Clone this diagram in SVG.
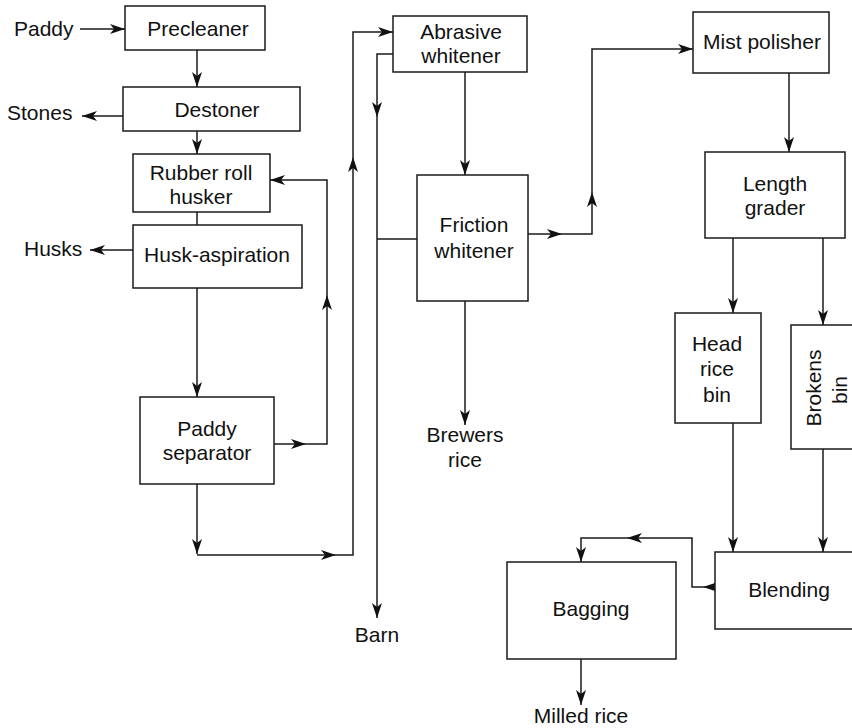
<svg xmlns="http://www.w3.org/2000/svg" width="852" height="728" viewBox="0 0 852 728">
<defs>
<marker id="ah" markerUnits="userSpaceOnUse" markerWidth="15" markerHeight="10" viewBox="0 0 15 10" refX="15" refY="5" orient="auto">
<path d="M0,0 L15,5 L0,10 L4,5 z" fill="#111"/>
</marker>
<style>
.b{fill:#fff;stroke:#1a1a1a;stroke-width:1.5}
.c path{fill:none;stroke:#1a1a1a;stroke-width:1.5}
.a{marker-end:url(#ah)}
text{font-family:"Liberation Sans",Arial,sans-serif;font-size:21px;fill:#111}
.m{text-anchor:middle}
</style>
</defs>
<rect width="852" height="728" fill="#fff"/>

<g class="c" id="connectors">
<path class="a" d="M80,29 H125"/>
<path class="a" d="M197,50 V87"/>
<path class="a" d="M123,116 H82"/>
<path class="a" d="M197,131 V154"/>
<path d="M197,212 V225"/>
<path class="a" d="M133,250 H90"/>
<path class="a" d="M197,288 V397"/>
<path class="a" d="M274,444 H306"/>
<path class="a" d="M306,444 H327 V295"/>
<path class="a" d="M327,295 V180 H270"/>
<path class="a" d="M197,484 V554"/>
<path class="a" d="M197,555 H336"/>
<path class="a" d="M336,555 H353 V157"/>
<path class="a" d="M353,157 V32 H393"/>
<path class="a" d="M393,54 H377 V117"/>
<path class="a" d="M377,117 V618"/>
<path d="M417,239 H377"/>
<path class="a" d="M465,72 V175"/>
<path class="a" d="M465,301 V425"/>
<path class="a" d="M528,234 H562"/>
<path class="a" d="M562,234 H592 V192"/>
<path class="a" d="M592,192 V49 H693"/>
<path class="a" d="M789,73 V152"/>
<path class="a" d="M733,238 V313"/>
<path class="a" d="M823,238 V325"/>
<path class="a" d="M733,423 V552"/>
<path class="a" d="M823,449 V552"/>
<path class="a" d="M715,587 H703"/>
<path class="a" d="M703,587 H692 V538 H627"/>
<path class="a" d="M627,538 H581 V562"/>
<path class="a" d="M581,659 V705"/>
</g>

<g id="precleaner"><rect class="b" x="125" y="6" width="140" height="44"/><text class="m" x="198" y="36">Precleaner</text></g>
<g id="destoner"><rect class="b" x="123" y="87" width="177" height="44"/><text class="m" x="217" y="117">Destoner</text></g>
<g id="husker"><rect class="b" x="133" y="154" width="137" height="58"/><text class="m" x="201" y="180">Rubber roll</text><text class="m" x="201" y="204">husker</text></g>
<g id="husk-aspiration"><rect class="b" x="133" y="225" width="169" height="63"/><text class="m" x="217" y="262">Husk-aspiration</text></g>
<g id="paddy-separator"><rect class="b" x="140" y="397" width="134" height="87"/><text class="m" x="207" y="436">Paddy</text><text class="m" x="207" y="460">separator</text></g>
<g id="abrasive-whitener"><rect class="b" x="393" y="16" width="134" height="56"/><text class="m" x="461" y="39">Abrasive</text><text class="m" x="461" y="63">whitener</text></g>
<g id="friction-whitener"><rect class="b" x="417" y="175" width="111" height="126"/><text class="m" x="474" y="232">Friction</text><text class="m" x="474" y="258">whitener</text></g>
<g id="mist-polisher"><rect class="b" x="693" y="12" width="136" height="61"/><text class="m" x="762" y="49">Mist polisher</text></g>
<g id="length-grader"><rect class="b" x="705" y="152" width="140" height="86"/><text class="m" x="775" y="191">Length</text><text class="m" x="775" y="215">grader</text></g>
<g id="head-rice-bin"><rect class="b" x="675" y="313" width="86" height="110"/><text class="m" x="717" y="351">Head</text><text class="m" x="717" y="376">rice</text><text class="m" x="717" y="402">bin</text></g>
<g id="brokens-bin"><rect class="b" x="791" y="325" width="70" height="124"/><text class="m" transform="translate(821,388) rotate(-90)">Brokens</text><text class="m" transform="translate(847,390) rotate(-90)">bin</text></g>
<g id="blending"><rect class="b" x="715" y="552" width="146" height="77"/><text class="m" x="789" y="597">Blending</text></g>
<g id="bagging"><rect class="b" x="507" y="562" width="169" height="97"/><text class="m" x="591" y="616">Bagging</text></g>

<g id="labels">
<text x="14" y="36">Paddy</text>
<text x="7" y="120">Stones</text>
<text x="24" y="256">Husks</text>
<text class="m" x="465" y="442">Brewers</text>
<text class="m" x="465" y="467">rice</text>
<text class="m" x="377" y="642">Barn</text>
<text class="m" x="581" y="723">Milled rice</text>
</g>
</svg>
